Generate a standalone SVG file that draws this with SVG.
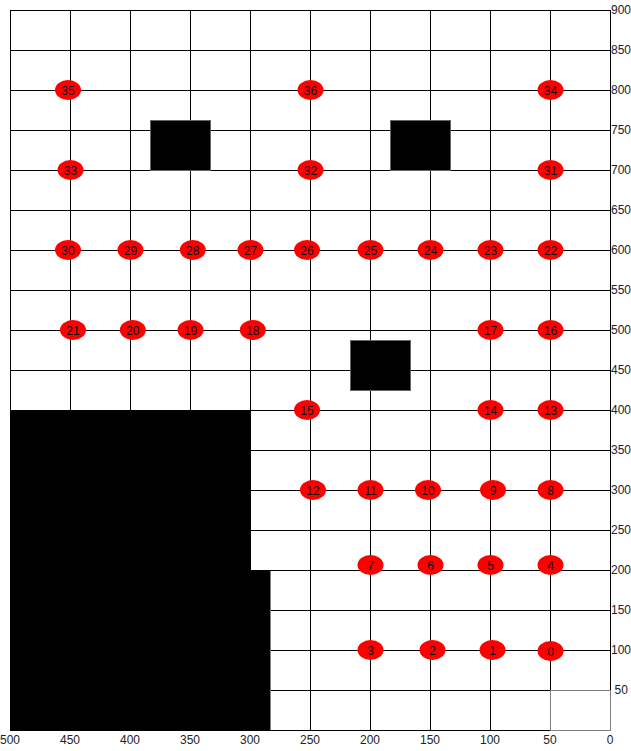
<svg xmlns="http://www.w3.org/2000/svg" width="631" height="751" viewBox="0 0 631 751">
<style>
.g{stroke:#000;stroke-width:1;shape-rendering:crispEdges;fill:none}
.gg{stroke:#808080;stroke-width:1;shape-rendering:crispEdges;fill:none}
.ob{fill:#000;stroke:#666;stroke-width:1;shape-rendering:crispEdges}
.ax{font-family:"Liberation Sans",Arial,sans-serif;font-size:12px;fill:#222}
.n ellipse{fill:#f00}
.n text{font-family:"Liberation Sans",Arial,sans-serif;font-size:12px;fill:#111;text-anchor:middle}
</style>
<rect width="631" height="751" fill="#fff"/>
<g id="grid">
<path class="g" d="M10,10V730M70,10V730M130,10V730M190,10V730M250,10V730M310,10V730M370,10V730M430,10V730M490,10V730M550,10V690M610,10V690"/>
<path class="g" d="M10,10H610M10,50H610M10,90H610M10,130H610M10,170H610M10,210H610M10,250H610M10,290H610M10,330H610M10,370H610M10,410H610M10,450H610M10,490H610M10,530H610M10,570H610M10,610H610M10,650H610M10,690H550M10,730H550"/>
<path class="gg" d="M550,690H610V730H550Z"/>
</g>
<g id="obstacles">
<rect x="10" y="410" width="240" height="160" fill="#000"/>
<rect x="10" y="570" width="260" height="160" fill="#000"/>
<path class="gg" d="M270,571V730"/>
<rect class="ob" x="150" y="120" width="60" height="50"/>
<rect class="ob" x="390" y="120" width="60" height="50"/>
<rect class="ob" x="350" y="340" width="60" height="50"/>
</g>
<g id="axis-right" class="ax">
<text x="611" y="14">900</text>
<text x="611" y="54">850</text>
<text x="611" y="94">800</text>
<text x="611" y="134">750</text>
<text x="611" y="174">700</text>
<text x="611" y="214">650</text>
<text x="611" y="254">600</text>
<text x="611" y="294">550</text>
<text x="611" y="334">500</text>
<text x="611" y="374">450</text>
<text x="611" y="414">400</text>
<text x="611" y="454">350</text>
<text x="611" y="494">300</text>
<text x="611" y="534">250</text>
<text x="611" y="574">200</text>
<text x="611" y="614">150</text>
<text x="611" y="654">100</text>
<text x="614.5" y="694">50</text>
</g>
<g id="axis-bottom" class="ax" text-anchor="middle">
<text x="10" y="744">500</text>
<text x="70" y="744">450</text>
<text x="130" y="744">400</text>
<text x="190" y="744">350</text>
<text x="250" y="744">300</text>
<text x="310" y="744">250</text>
<text x="370" y="744">200</text>
<text x="430" y="744">150</text>
<text x="490" y="744">100</text>
<text x="550" y="744">50</text>
<text x="610" y="744">0</text>
</g>
<g id="n0" class="n"><ellipse cx="550.5" cy="651" rx="13" ry="10"/><text x="550.5" y="655.5">0</text></g>
<g id="n1" class="n"><ellipse cx="492.5" cy="650" rx="13" ry="10"/><text x="492.5" y="654.5">1</text></g>
<g id="n2" class="n"><ellipse cx="432.5" cy="650" rx="13" ry="10"/><text x="432.5" y="654.5">2</text></g>
<g id="n3" class="n"><ellipse cx="370.5" cy="650" rx="13" ry="10"/><text x="370.5" y="654.5">3</text></g>
<g id="n4" class="n"><ellipse cx="550.5" cy="565" rx="13" ry="10"/><text x="550.5" y="569.5">4</text></g>
<g id="n5" class="n"><ellipse cx="490.5" cy="565" rx="13" ry="10"/><text x="490.5" y="569.5">5</text></g>
<g id="n6" class="n"><ellipse cx="430.5" cy="565" rx="13" ry="10"/><text x="430.5" y="569.5">6</text></g>
<g id="n7" class="n"><ellipse cx="370.5" cy="565" rx="13" ry="10"/><text x="370.5" y="569.5">7</text></g>
<g id="n8" class="n"><ellipse cx="550.5" cy="490" rx="13" ry="10"/><text x="550.5" y="494.5">8</text></g>
<g id="n9" class="n"><ellipse cx="493" cy="490" rx="13" ry="10"/><text x="493" y="494.5">9</text></g>
<g id="n10" class="n"><ellipse cx="428" cy="490" rx="13" ry="10"/><text x="428" y="494.5">10</text></g>
<g id="n11" class="n"><ellipse cx="370.5" cy="490" rx="13" ry="10"/><text x="370.5" y="494.5">11</text></g>
<g id="n12" class="n"><ellipse cx="313" cy="490" rx="13" ry="10"/><text x="313" y="494.5">12</text></g>
<g id="n13" class="n"><ellipse cx="550.5" cy="410" rx="13" ry="10"/><text x="550.5" y="414.5">13</text></g>
<g id="n14" class="n"><ellipse cx="490.5" cy="410" rx="13" ry="10"/><text x="490.5" y="414.5">14</text></g>
<g id="n15" class="n"><ellipse cx="307" cy="410" rx="13" ry="10"/><text x="307" y="414.5">15</text></g>
<g id="n16" class="n"><ellipse cx="550.5" cy="330" rx="13" ry="10"/><text x="550.5" y="334.5">16</text></g>
<g id="n17" class="n"><ellipse cx="490.5" cy="330" rx="13" ry="10"/><text x="490.5" y="334.5">17</text></g>
<g id="n18" class="n"><ellipse cx="252.8" cy="330" rx="13" ry="10"/><text x="252.8" y="334.5">18</text></g>
<g id="n19" class="n"><ellipse cx="190.5" cy="330" rx="13" ry="10"/><text x="190.5" y="334.5">19</text></g>
<g id="n20" class="n"><ellipse cx="132.8" cy="330" rx="13" ry="10"/><text x="132.8" y="334.5">20</text></g>
<g id="n21" class="n"><ellipse cx="73" cy="330" rx="13" ry="10"/><text x="73" y="334.5">21</text></g>
<g id="n22" class="n"><ellipse cx="550.5" cy="250" rx="13" ry="10"/><text x="550.5" y="254.5">22</text></g>
<g id="n23" class="n"><ellipse cx="490.5" cy="250" rx="13" ry="10"/><text x="490.5" y="254.5">23</text></g>
<g id="n24" class="n"><ellipse cx="430.5" cy="250" rx="13" ry="10"/><text x="430.5" y="254.5">24</text></g>
<g id="n25" class="n"><ellipse cx="370.5" cy="250" rx="13" ry="10"/><text x="370.5" y="254.5">25</text></g>
<g id="n26" class="n"><ellipse cx="307" cy="250" rx="13" ry="10"/><text x="307" y="254.5">26</text></g>
<g id="n27" class="n"><ellipse cx="250.5" cy="250" rx="13" ry="10"/><text x="250.5" y="254.5">27</text></g>
<g id="n28" class="n"><ellipse cx="192.8" cy="250" rx="13" ry="10"/><text x="192.8" y="254.5">28</text></g>
<g id="n29" class="n"><ellipse cx="130.5" cy="250" rx="13" ry="10"/><text x="130.5" y="254.5">29</text></g>
<g id="n30" class="n"><ellipse cx="68" cy="250" rx="13" ry="10"/><text x="68" y="254.5">30</text></g>
<g id="n31" class="n"><ellipse cx="550.5" cy="170" rx="13" ry="10"/><text x="550.5" y="174.5">31</text></g>
<g id="n32" class="n"><ellipse cx="310.5" cy="170" rx="13" ry="10"/><text x="310.5" y="174.5">32</text></g>
<g id="n33" class="n"><ellipse cx="70.5" cy="170" rx="13" ry="10"/><text x="70.5" y="174.5">33</text></g>
<g id="n34" class="n"><ellipse cx="550.5" cy="90" rx="13" ry="10"/><text x="550.5" y="94.5">34</text></g>
<g id="n35" class="n"><ellipse cx="68" cy="90" rx="13" ry="10"/><text x="68" y="94.5">35</text></g>
<g id="n36" class="n"><ellipse cx="310.5" cy="90" rx="13" ry="10"/><text x="310.5" y="94.5">36</text></g>
<g id="connectors"/>
</svg>
